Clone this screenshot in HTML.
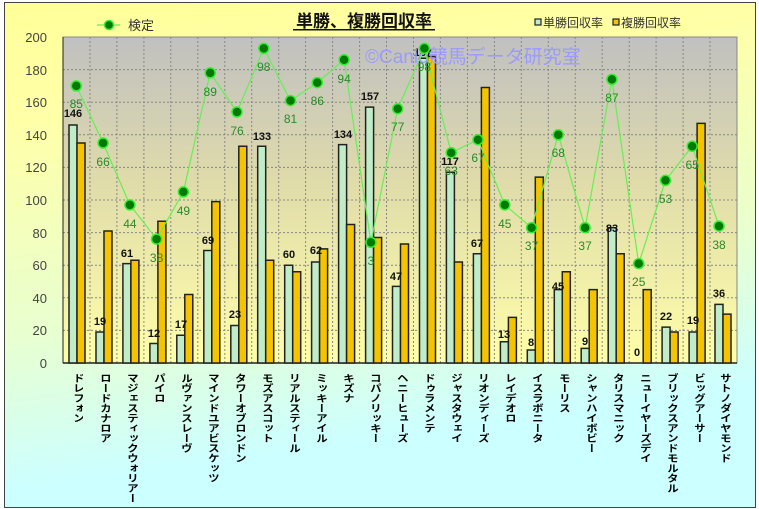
<!DOCTYPE html>
<html><head><meta charset="utf-8">
<style>
html,body{margin:0;padding:0;}
body{width:759px;height:509px;overflow:hidden;background:#fff;font-family:"Liberation Sans","Noto Sans CJK JP",sans-serif;}
#c{position:absolute;left:4px;top:2px;width:750px;height:504px;border:1px solid #444;background:linear-gradient(172deg,#ffff99 0%,#ffffa8 20%,#e8ffd0 55%,#ccffff 80%,#ccffff 100%);}
.xl{position:absolute;top:373px;writing-mode:vertical-rl;font-size:10px;font-weight:bold;color:#000;line-height:12px;width:12px;white-space:nowrap;transform:scaleX(1.15);transform-origin:center top;letter-spacing:0;}
</style></head><body>
<div id="c"></div>
<svg width="759" height="509" style="position:absolute;left:0;top:0" font-family="Liberation Sans, Noto Sans CJK JP, sans-serif">
<defs>
<linearGradient id="pg" x1="0" y1="0" x2="0" y2="1">
<stop offset="0" stop-color="#c0c0c0"/><stop offset="0.45" stop-color="#e0dcaa"/><stop offset="1" stop-color="#ffffa8"/>
</linearGradient>
</defs>
<rect x="63" y="37" width="674" height="326" fill="url(#pg)" stroke="#888" stroke-width="1"/>
<g stroke="#888" stroke-width="1" stroke-dasharray="2,2">
<line x1="63" x2="737" y1="69.6" y2="69.6"/><line x1="63" x2="737" y1="102.2" y2="102.2"/><line x1="63" x2="737" y1="134.8" y2="134.8"/><line x1="63" x2="737" y1="167.4" y2="167.4"/><line x1="63" x2="737" y1="200" y2="200"/><line x1="63" x2="737" y1="232.6" y2="232.6"/><line x1="63" x2="737" y1="265.2" y2="265.2"/><line x1="63" x2="737" y1="297.8" y2="297.8"/><line x1="63" x2="737" y1="330.4" y2="330.4"/>
<line y1="37" y2="363" x1="90" x2="90"/><line y1="37" y2="363" x1="116.9" x2="116.9"/><line y1="37" y2="363" x1="143.9" x2="143.9"/><line y1="37" y2="363" x1="170.8" x2="170.8"/><line y1="37" y2="363" x1="197.8" x2="197.8"/><line y1="37" y2="363" x1="224.8" x2="224.8"/><line y1="37" y2="363" x1="251.7" x2="251.7"/><line y1="37" y2="363" x1="278.7" x2="278.7"/><line y1="37" y2="363" x1="305.6" x2="305.6"/><line y1="37" y2="363" x1="332.6" x2="332.6"/><line y1="37" y2="363" x1="359.6" x2="359.6"/><line y1="37" y2="363" x1="386.5" x2="386.5"/><line y1="37" y2="363" x1="413.5" x2="413.5"/><line y1="37" y2="363" x1="440.4" x2="440.4"/><line y1="37" y2="363" x1="467.4" x2="467.4"/><line y1="37" y2="363" x1="494.4" x2="494.4"/><line y1="37" y2="363" x1="521.3" x2="521.3"/><line y1="37" y2="363" x1="548.3" x2="548.3"/><line y1="37" y2="363" x1="575.2" x2="575.2"/><line y1="37" y2="363" x1="602.2" x2="602.2"/><line y1="37" y2="363" x1="629.2" x2="629.2"/><line y1="37" y2="363" x1="656.1" x2="656.1"/><line y1="37" y2="363" x1="683.1" x2="683.1"/><line y1="37" y2="363" x1="710" x2="710"/>
</g>
<line x1="63" y1="363" x2="737" y2="363" stroke="#222" stroke-width="1.5"/>
<line x1="63" y1="37" x2="63" y2="363" stroke="#222" stroke-width="1"/>
<g font-size="13" fill="#444" text-anchor="end">
<text x="47" y="42">200</text><text x="47" y="75">180</text><text x="47" y="107">160</text><text x="47" y="140">140</text><text x="47" y="172">120</text><text x="47" y="205">100</text><text x="47" y="238">80</text><text x="47" y="270">60</text><text x="47" y="303">40</text><text x="47" y="335">20</text><text x="47" y="368">0</text>
</g>
<g transform="translate(0,363) scale(1,-1.63)" stroke="#222" stroke-width="1.5">
<g fill="#c0ecc8">
<rect vector-effect="non-scaling-stroke" x="69" y="0" width="8" height="146"/>
<rect vector-effect="non-scaling-stroke" x="96" y="0" width="8" height="19"/>
<rect vector-effect="non-scaling-stroke" x="122.9" y="0" width="8" height="61"/>
<rect vector-effect="non-scaling-stroke" x="149.9" y="0" width="8" height="12"/>
<rect vector-effect="non-scaling-stroke" x="176.8" y="0" width="8" height="17"/>
<rect vector-effect="non-scaling-stroke" x="203.8" y="0" width="8" height="69"/>
<rect vector-effect="non-scaling-stroke" x="230.8" y="0" width="8" height="23"/>
<rect vector-effect="non-scaling-stroke" x="257.7" y="0" width="8" height="133"/>
<rect vector-effect="non-scaling-stroke" x="284.7" y="0" width="8" height="60"/>
<rect vector-effect="non-scaling-stroke" x="311.6" y="0" width="8" height="62"/>
<rect vector-effect="non-scaling-stroke" x="338.6" y="0" width="8" height="134"/>
<rect vector-effect="non-scaling-stroke" x="365.6" y="0" width="8" height="157"/>
<rect vector-effect="non-scaling-stroke" x="392.5" y="0" width="8" height="47"/>
<rect vector-effect="non-scaling-stroke" x="419.5" y="0" width="8" height="187"/>
<rect vector-effect="non-scaling-stroke" x="446.4" y="0" width="8" height="117"/>
<rect vector-effect="non-scaling-stroke" x="473.4" y="0" width="8" height="67"/>
<rect vector-effect="non-scaling-stroke" x="500.4" y="0" width="8" height="13"/>
<rect vector-effect="non-scaling-stroke" x="527.3" y="0" width="8" height="8"/>
<rect vector-effect="non-scaling-stroke" x="554.3" y="0" width="8" height="45"/>
<rect vector-effect="non-scaling-stroke" x="581.2" y="0" width="8" height="9"/>
<rect vector-effect="non-scaling-stroke" x="608.2" y="0" width="8" height="83"/>
<rect vector-effect="non-scaling-stroke" x="662.1" y="0" width="8" height="22"/>
<rect vector-effect="non-scaling-stroke" x="689.1" y="0" width="8" height="19"/>
<rect vector-effect="non-scaling-stroke" x="715" y="0" width="8" height="36"/>
</g>
<g fill="#f5c400">
<rect vector-effect="non-scaling-stroke" x="77" y="0" width="8" height="135"/>
<rect vector-effect="non-scaling-stroke" x="104" y="0" width="8" height="81"/>
<rect vector-effect="non-scaling-stroke" x="130.9" y="0" width="8" height="63"/>
<rect vector-effect="non-scaling-stroke" x="157.9" y="0" width="8" height="87"/>
<rect vector-effect="non-scaling-stroke" x="184.8" y="0" width="8" height="42"/>
<rect vector-effect="non-scaling-stroke" x="211.8" y="0" width="8" height="99"/>
<rect vector-effect="non-scaling-stroke" x="238.8" y="0" width="8" height="133"/>
<rect vector-effect="non-scaling-stroke" x="265.7" y="0" width="8" height="63"/>
<rect vector-effect="non-scaling-stroke" x="292.7" y="0" width="8" height="56"/>
<rect vector-effect="non-scaling-stroke" x="319.6" y="0" width="8" height="70"/>
<rect vector-effect="non-scaling-stroke" x="346.6" y="0" width="8" height="85"/>
<rect vector-effect="non-scaling-stroke" x="373.6" y="0" width="8" height="77"/>
<rect vector-effect="non-scaling-stroke" x="400.5" y="0" width="8" height="73"/>
<rect vector-effect="non-scaling-stroke" x="427.5" y="0" width="8" height="188"/>
<rect vector-effect="non-scaling-stroke" x="454.4" y="0" width="8" height="62"/>
<rect vector-effect="non-scaling-stroke" x="481.4" y="0" width="8" height="169"/>
<rect vector-effect="non-scaling-stroke" x="508.4" y="0" width="8" height="28"/>
<rect vector-effect="non-scaling-stroke" x="535.3" y="0" width="8" height="114"/>
<rect vector-effect="non-scaling-stroke" x="562.3" y="0" width="8" height="56"/>
<rect vector-effect="non-scaling-stroke" x="589.2" y="0" width="8" height="45"/>
<rect vector-effect="non-scaling-stroke" x="616.2" y="0" width="8" height="67"/>
<rect vector-effect="non-scaling-stroke" x="643.2" y="0" width="8" height="45"/>
<rect vector-effect="non-scaling-stroke" x="670.1" y="0" width="8" height="19"/>
<rect vector-effect="non-scaling-stroke" x="697.1" y="0" width="8" height="147"/>
<rect vector-effect="non-scaling-stroke" x="723" y="0" width="8" height="30"/>
</g>
</g>
<g font-size="11" font-weight="bold" fill="#111" text-anchor="middle">
<text x="73" y="117">146</text><text x="100" y="325">19</text><text x="127" y="257">61</text><text x="154" y="337">12</text><text x="181" y="328">17</text><text x="208" y="244">69</text><text x="235" y="318">23</text><text x="262" y="140">133</text><text x="289" y="258">60</text><text x="316" y="254">62</text><text x="343" y="138">134</text><text x="370" y="100">157</text><text x="396" y="280">47</text><text x="423" y="56">187</text><text x="450" y="165">117</text><text x="477" y="247">67</text><text x="504" y="338">13</text><text x="531" y="346">8</text><text x="558" y="290">45</text><text x="585" y="345">9</text><text x="612" y="232">83</text><text x="637" y="356">0</text><text x="666" y="320">22</text><text x="693" y="324">19</text><text x="719" y="297">36</text>
</g>
<text x="365" y="63" font-size="19" fill="#9a9aff">©Canio競馬データ研究室</text>
<polyline fill="none" stroke="#66ee55" stroke-width="1.2" points="76.3,85.9 103.1,143 129.9,204.9 156.6,239.1 183.4,191.9 210.2,72.9 237,112 263.8,48.4 290.5,100.6 317.3,82.6 344.1,59.8 370.9,242.4 397.7,108.7 424.4,48.4 451.2,152.7 478,139.7 504.8,204.9 531.6,227.7 558.3,134.8 585.1,227.7 611.9,79.4 638.7,263.6 665.5,180.4 692.2,146.2 719,226.1"/>
<g fill="#007a00" stroke="#33ee33" stroke-width="1.5">
<circle cx="76.3" cy="85.9" r="5"/><circle cx="103.1" cy="143" r="5"/><circle cx="129.9" cy="204.9" r="5"/><circle cx="156.6" cy="239.1" r="5"/><circle cx="183.4" cy="191.9" r="5"/><circle cx="210.2" cy="72.9" r="5"/><circle cx="237" cy="112" r="5"/><circle cx="263.8" cy="48.4" r="5"/><circle cx="290.5" cy="100.6" r="5"/><circle cx="317.3" cy="82.6" r="5"/><circle cx="344.1" cy="59.8" r="5"/><circle cx="370.9" cy="242.4" r="5"/><circle cx="397.7" cy="108.7" r="5"/><circle cx="424.4" cy="48.4" r="5"/><circle cx="451.2" cy="152.7" r="5"/><circle cx="478" cy="139.7" r="5"/><circle cx="504.8" cy="204.9" r="5"/><circle cx="531.6" cy="227.7" r="5"/><circle cx="558.3" cy="134.8" r="5"/><circle cx="585.1" cy="227.7" r="5"/><circle cx="611.9" cy="79.4" r="5"/><circle cx="638.7" cy="263.6" r="5"/><circle cx="665.5" cy="180.4" r="5"/><circle cx="692.2" cy="146.2" r="5"/><circle cx="719" cy="226.1" r="5"/>
</g>
<g font-size="12" fill="#2a8a2a" text-anchor="middle">
<text x="76.3" y="108">85</text><text x="103.1" y="166">66</text><text x="129.9" y="228">44</text><text x="156.6" y="262">38</text><text x="183.4" y="215">49</text><text x="210.2" y="96">89</text><text x="237" y="135">76</text><text x="263.8" y="71">98</text><text x="290.5" y="123">81</text><text x="317.3" y="105">86</text><text x="344.1" y="83">94</text><text x="370.9" y="265">3</text><text x="397.7" y="131">77</text><text x="424.4" y="71">98</text><text x="451.2" y="175">63</text><text x="478" y="162">67</text><text x="504.8" y="228">45</text><text x="531.6" y="250">37</text><text x="558.3" y="157">68</text><text x="585.1" y="250">37</text><text x="611.9" y="102">87</text><text x="638.7" y="286">25</text><text x="665.5" y="203">53</text><text x="692.2" y="169">65</text><text x="719" y="249">38</text>
</g>
<text x="364" y="27" font-size="17" font-weight="bold" fill="#111" text-anchor="middle">単勝、複勝回収率</text>
<rect x="293" y="29" width="142" height="1.5" fill="#111"/>
<line x1="97" y1="25" x2="120" y2="25" stroke="#66ee55" stroke-width="1.2"/>
<circle cx="109" cy="25" r="4.5" fill="#007a00" stroke="#33ee33" stroke-width="1.5"/>
<text x="128" y="30" font-size="13" fill="#333">検定</text>
<rect x="535" y="19" width="6" height="6" fill="#c0ecc8" stroke="#222" stroke-width="1.2"/>
<text x="543" y="27" font-size="12" fill="#333">単勝回収率</text>
<rect x="613" y="19" width="6" height="6" fill="#f5c400" stroke="#222" stroke-width="1.2"/>
<text x="621" y="27" font-size="12" fill="#333">複勝回収率</text>
</svg>
<div class="xl" style="left:70px">ドレフォン</div>
<div class="xl" style="left:97px">ロードカナロア</div>
<div class="xl" style="left:124px">マジェスティックウォリアー</div>
<div class="xl" style="left:151px">パイロ</div>
<div class="xl" style="left:178px">ルヴァンスレーヴ</div>
<div class="xl" style="left:205px">マインドユアビスケッツ</div>
<div class="xl" style="left:232px">タワーオブロンドン</div>
<div class="xl" style="left:259px">モズアスコット</div>
<div class="xl" style="left:286px">リアルスティール</div>
<div class="xl" style="left:313px">ミッキーアイル</div>
<div class="xl" style="left:340px">キズナ</div>
<div class="xl" style="left:367px">コパノリッキー</div>
<div class="xl" style="left:394px">ヘニーヒューズ</div>
<div class="xl" style="left:421px">ドゥラメンテ</div>
<div class="xl" style="left:448px">ジャスタウェイ</div>
<div class="xl" style="left:475px">リオンディーズ</div>
<div class="xl" style="left:502px">レイデオロ</div>
<div class="xl" style="left:529px">イスラボニータ</div>
<div class="xl" style="left:556px">モーリス</div>
<div class="xl" style="left:583px">シャンハイボビー</div>
<div class="xl" style="left:610px">タリスマニック</div>
<div class="xl" style="left:637px">ニューイヤーズデイ</div>
<div class="xl" style="left:664px">ブリックスアンドモルタル</div>
<div class="xl" style="left:691px">ビッグアーサー</div>
<div class="xl" style="left:717px">サトノダイヤモンド</div>
</body></html>
